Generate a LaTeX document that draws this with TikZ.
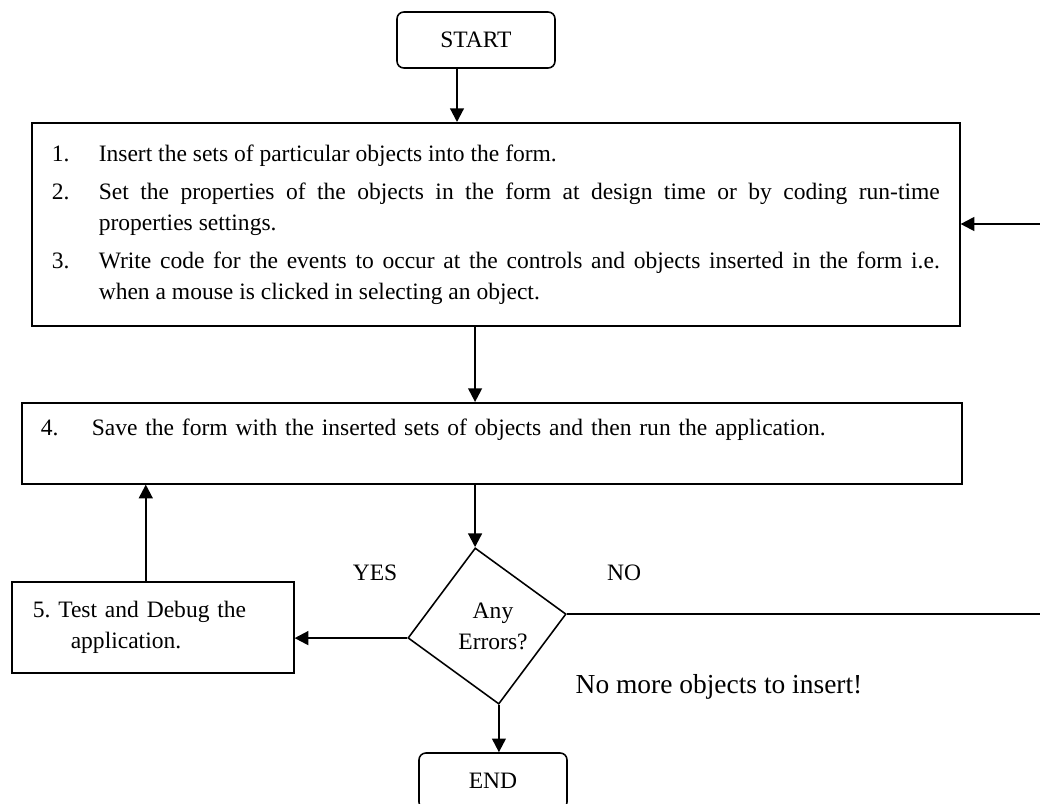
\documentclass[tikz,border=0pt]{standalone}
\usepackage{fontspec}
\setmainfont{Liberation Serif}
\usetikzlibrary{arrows.meta,shapes.geometric}

\newlength\pxu
\setlength\pxu{0.51pt}
% one numbered step, hanging text
\newcommand\stepitem[3][47]{\hangindent=#1\pxu\hangafter=1\noindent\makebox[#1\pxu][l]{#2}#3\par}

\hyphenpenalty=10000
\exhyphenpenalty=10000
\tolerance=9999
\frenchspacing

\begin{document}
\begin{tikzpicture}[x=0.51pt, y=-0.51pt, font=\fontsize{12}{15.8}\selectfont,
  stepbox/.style={draw, line width=0.8pt, inner ysep=0pt, anchor=north west},
  termbox/.style={draw, line width=0.8pt, rounded corners=3.5pt, minimum width=158\pxu, minimum height=56\pxu, inner sep=0pt},
  decision/.style={draw, diamond, line width=0.8pt, minimum width=160\pxu, minimum height=158\pxu, inner sep=0pt},
  arr/.style={-{Triangle[length=7pt,width=7pt]}, line width=1.1pt}]

\useasboundingbox (0,0) rectangle (1040,803);

% start and end
\node[termbox] (start) at (476,40) {START};
\node[termbox, minimum width=148\pxu] (endbox) at (493,781) {END};

% steps 1 to 3
\node[stepbox, text width=888\pxu, inner xsep=20\pxu, minimum height=203\pxu, align=justify] (steps) at (31,122) {\parskip=3.6pt
\spaceskip=\fontdimen2\font plus 2\fontdimen3\font
\stepitem{1.}{Insert the sets of particular objects into the form.}
\stepitem{2.}{Set the properties of the objects in the form at design time or by coding run-time properties settings.}
\stepitem{3.}{Write code for the events to occur at the controls and objects inserted in the form i.e. when a mouse is clicked in selecting an object.}};

% step 4
\node[stepbox, text width=902\pxu, inner xsep=19\pxu, text height=33\pxu, text depth=48\pxu, align=left] (save) at (21,402)
  {\stepitem[51]{4.}{Save the form with the inserted sets of objects and then run the application.}};

% step 5
\node[stepbox, text width=240\pxu, inner xsep=21\pxu, minimum height=91\pxu, align=left] (debug) at (11,581)
  {5. Test and Debug the\\\hspace*{38\pxu}application.};

% decision
\node[decision, rotate=8.6] (err) at (487,626) {};
\node[align=center, inner sep=0pt] (errtext) at ([xshift=6\pxu]err.center) {Any\\Errors?};

\node (yes) at (375,573) {YES};
\node (no) at (624,573) {NO};
\node[font=\fontsize{14}{17}\selectfont] (done) at (719,687) {No more objects to insert!};

% connectors
\coordinate (startfoot) at ([xshift=-19\pxu]start.south);
\coordinate (debugtop) at ([xshift=-7\pxu]debug.north);
\coordinate (rim) at (1046,224);

\draw[arr] (startfoot) -- (startfoot |- steps.north);
\draw[arr] (err.north |- steps.south) -- (err.north |- save.north);
\draw[arr] (err.north |- save.south) -- (err.north);
\draw[arr] (err.west) -- (err.west -| debug.east);
\draw[arr] (debugtop) -- (debugtop |- save.south);
\draw[arr] (err.south) -- (err.south |- endbox.north);
\draw[line width=0.8pt] (err.east) -- (err.east -| rim) -- (rim);
\draw[arr] (rim) -- (rim -| steps.east);

\end{tikzpicture}
\end{document}
